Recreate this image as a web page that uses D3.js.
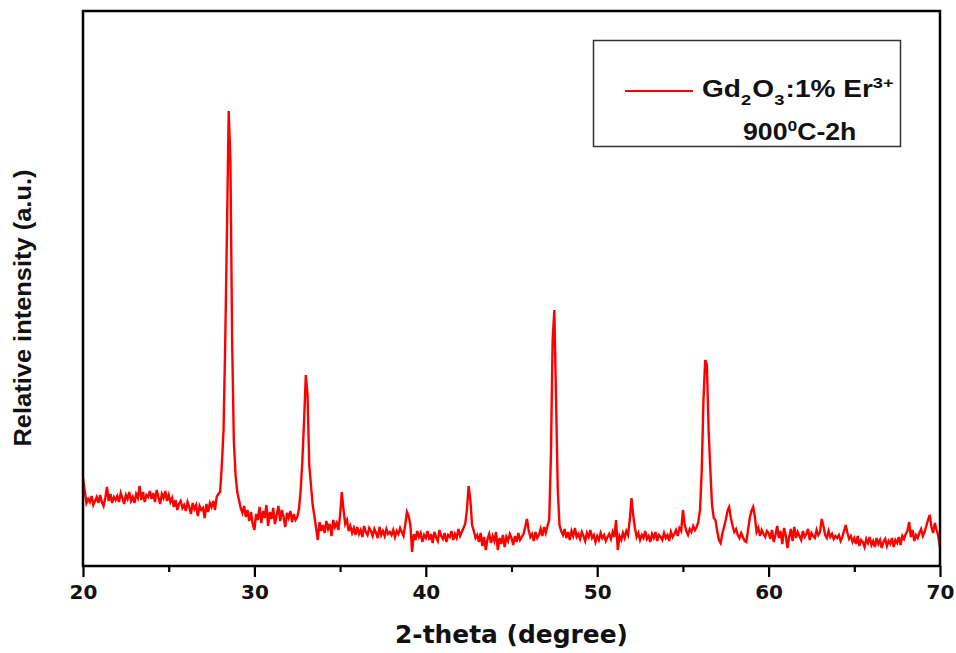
<!DOCTYPE html>
<html>
<head>
<meta charset="utf-8">
<script src="https://cdn.jsdelivr.net/npm/d3@7"></script>
<style>
  body { margin: 0; background: #fff; }
  svg { display: block; }
</style>
</head>
<body>
<script>
var width = 956, height = 653;
var margin = { top: 11, right: 16, bottom: 87, left: 83 };

// 2-theta grid of the scan (degrees)
var thetaStart = 20, thetaStep = 0.1;

// intensity, one row per degree (x.0 ... x.9)
var intensity = [
  176,150,126,134,128,140,122,130,138,126,  // 20
  142,128,120,136,158,130,144,126,138,132,  // 21
  140,128,146,136,124,142,134,148,130,138,  // 22
  126,144,136,160,132,148,128,142,138,150,  // 23
  134,146,128,152,138,124,144,136,150,130,  // 24
  142,128,136,118,132,112,124,130,116,122,  // 25
  110,128,118,104,126,114,122,100,120,112,  // 26
  116,96,124,108,126,118,130,112,138,144,   // 27
  148,202,272,452,672,910,812,452,252,182,  // 28
  148,132,116,106,120,98,112,90,108,84,     // 29
  72,104,92,118,86,110,96,122,80,108,       // 30
  94,116,84,102,120,90,112,98,78,106,       // 31
  96,110,88,104,92,98,114,152,212,292,      // 32
  382,342,202,162,122,100,76,52,88,70,      // 33
  82,66,90,74,84,60,92,78,86,72,            // 34
  102,148,112,84,92,70,80,66,76,62,         // 35
  78,64,72,58,80,68,62,76,70,60,            // 36
  74,66,56,78,62,70,60,74,64,68,            // 37
  62,72,58,70,64,76,68,60,82,108,           // 38
  100,82,28,64,52,70,58,66,48,62,           // 39
  56,70,52,64,46,68,58,50,72,60,            // 40
  54,66,48,62,58,70,52,64,56,74,            // 41
  60,68,76,84,112,160,132,82,70,56,         // 42
  62,48,66,40,58,32,54,64,46,60,            // 43
  50,68,32,56,44,62,38,58,50,64,            // 44
  56,42,60,48,66,52,58,64,78,94,            // 45
  72,58,64,50,68,56,62,74,60,78,            // 46
  66,80,92,222,452,512,332,152,82,70,       // 47
  62,74,56,68,52,70,60,76,58,64,            // 48
  54,68,60,50,66,58,72,56,62,48,            // 49
  60,52,66,56,62,50,58,64,54,68,            // 50
  58,92,32,60,52,66,56,70,62,92,            // 51
  136,102,76,58,66,52,62,56,70,54,          // 52
  60,48,64,56,68,50,62,58,52,66,            // 53
  56,62,50,68,58,64,72,60,76,70,            // 54
  112,84,70,62,74,68,80,72,78,88,           // 55
  112,192,332,412,402,272,192,122,96,92,    // 56
  70,52,46,64,78,92,110,118,96,80,          // 57
  68,74,62,56,66,58,50,48,72,96,            // 58
  110,118,98,68,76,60,72,64,58,70,          // 59
  66,54,72,48,62,80,56,70,44,76,            // 60
  62,36,58,74,50,78,56,68,60,52,            // 61
  70,58,64,74,52,66,60,56,72,62,            // 62
  68,94,80,62,56,70,58,64,54,60,            // 63
  56,62,50,58,70,82,66,54,60,48,            // 64
  56,44,60,40,52,48,38,54,46,58,            // 65
  42,50,38,56,44,52,36,48,54,40,            // 66
  50,44,56,38,52,46,58,42,60,54,            // 67
  64,70,88,58,72,50,62,56,66,74,            // 68
  60,68,80,92,102,78,66,86,72,60,           // 69
  38                                        // 70
];

var majorTicks = [20, 30, 40, 50, 60, 70];
var minorTicks = [25, 35, 45, 55, 65];

var xLabel = "2-theta (degree)";
var yLabel = "Relative intensity (a.u.)";

var lineColor = "#ff0000";

var svg = d3.select("body")
    .append("svg")
    .attr("width", width)
    .attr("height", height);

var plotW = width - margin.left - margin.right,
    plotH = height - margin.top - margin.bottom;

var x = d3.scaleLinear([20, 70], [margin.left, margin.left + plotW]);
var y = d3.scaleLinear([0, 1110], [margin.top + plotH, margin.top]);

var data = intensity.map((v, i) => ({ t: thetaStart + i * thetaStep, v: v }));

svg.append("clipPath")
    .attr("id", "clip")
    .append("rect")
    .attr("x", margin.left)
    .attr("y", margin.top)
    .attr("width", plotW)
    .attr("height", plotH);

var line = d3.line()
    .x(d => x(d.t))
    .y(d => y(d.v));

svg.append("path")
    .datum(data)
    .attr("clip-path", "url(#clip)")
    .attr("fill", "none")
    .attr("stroke", lineColor)
    .attr("stroke-width", 2.4)
    .attr("stroke-linejoin", "miter")
    .attr("d", line);

// x axis: major + minor ticks, outward
var xAxis = g => g
    .attr("transform", `translate(0, ${margin.top + plotH})`)
    .call(d3.axisBottom(x).tickValues(majorTicks).tickSize(11).tickPadding(8).tickFormat(d3.format("d")))
    .call(g => g.select(".domain").remove())
    .call(g => g.selectAll(".tick line").attr("stroke", "#000").attr("stroke-width", 2.2))
    .call(g => g.selectAll(".tick text")
        .attr("fill", "#111")
        .attr("font-family", "DejaVu Sans, Verdana, sans-serif")
        .attr("font-weight", "bold")
        .attr("font-size", 20));

svg.append("g").call(xAxis);

svg.append("g")
    .attr("transform", `translate(0, ${margin.top + plotH})`)
    .call(d3.axisBottom(x).tickValues(minorTicks).tickSize(6).tickFormat(""))
    .call(g => g.select(".domain").remove())
    .call(g => g.selectAll(".tick line").attr("stroke", "#000").attr("stroke-width", 2.2));

// frame
svg.append("rect")
    .attr("x", margin.left)
    .attr("y", margin.top)
    .attr("width", plotW)
    .attr("height", plotH)
    .attr("fill", "none")
    .attr("stroke", "#000")
    .attr("stroke-width", 2.5);

// axis titles
svg.append("text")
    .attr("x", margin.left + plotW / 2)
    .attr("y", 643)
    .attr("text-anchor", "middle")
    .attr("font-family", "DejaVu Sans, Verdana, sans-serif")
    .attr("font-weight", "bold")
    .attr("font-size", 24)
    .attr("fill", "#111")
    .attr("textLength", 233)
    .attr("lengthAdjust", "spacingAndGlyphs")
    .text(xLabel);

svg.append("text")
    .attr("transform", "translate(31, 308) rotate(-90)")
    .attr("text-anchor", "middle")
    .attr("font-family", "Liberation Sans, Arial, sans-serif")
    .attr("font-weight", "bold")
    .attr("font-size", 24)
    .attr("fill", "#111")
    .attr("textLength", 277)
    .attr("lengthAdjust", "spacingAndGlyphs")
    .text(yLabel);

// legend
var legend = svg.append("g");
legend.append("rect")
    .attr("x", 593.5)
    .attr("y", 40.5)
    .attr("width", 307)
    .attr("height", 106)
    .attr("fill", "#fff")
    .attr("stroke", "#333")
    .attr("stroke-width", 1.5);

legend.append("line")
    .attr("x1", 625).attr("x2", 693)
    .attr("y1", 91).attr("y2", 91)
    .attr("stroke", lineColor)
    .attr("stroke-width", 2);

// the legend lettering is wide, so stretch it horizontally
var lt = legend.append("text")
    .attr("transform", "translate(702, 97) scale(1.22, 1)")
    .attr("font-family", "Liberation Sans, Arial, sans-serif")
    .attr("font-weight", "bold")
    .attr("font-size", 23)
    .attr("fill", "#111");
lt.append("tspan").text("Gd");
lt.append("tspan").attr("font-size", 15).attr("dy", 8).text("2");
lt.append("tspan").attr("dy", -8).attr("dx", 1).text("O");
lt.append("tspan").attr("font-size", 15).attr("dy", 8).text("3");
lt.append("tspan").attr("dy", -8).attr("dx", 1).text(":1% Er");
lt.append("tspan").attr("font-size", 15).attr("dy", -9).text("3+");

var lt2 = legend.append("text")
    .attr("transform", "translate(743, 140) scale(1.16, 1)")
    .attr("font-family", "Liberation Sans, Arial, sans-serif")
    .attr("font-weight", "bold")
    .attr("font-size", 23)
    .attr("fill", "#111");
lt2.append("tspan").text("900");
lt2.append("tspan").attr("font-size", 15).attr("dy", -9).text("0");
lt2.append("tspan").attr("dy", 9).text("C-2h");
</script>
</body>
</html>
